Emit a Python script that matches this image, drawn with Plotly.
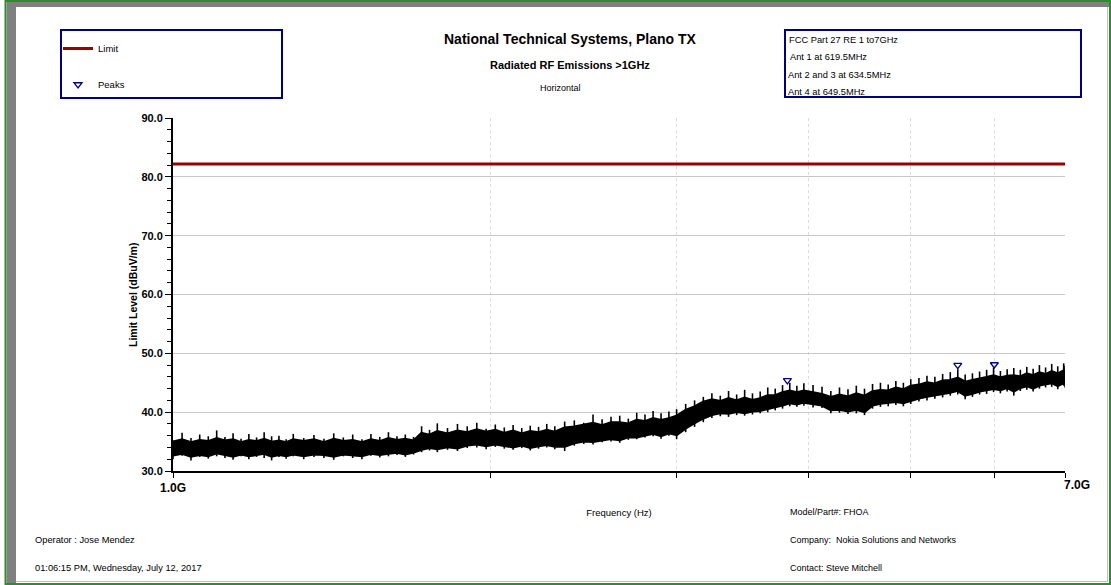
import math
import plotly.graph_objects as go

# ---------------- data ----------------
freq_ghz = [
    1.00, 1.02, 1.04, 1.06, 1.08, 1.10, 1.12, 1.14, 1.16, 1.18, 1.20, 1.22, 1.24, 1.26, 1.28, 1.30,
    1.33, 1.36, 1.39, 1.42, 1.45, 1.48, 1.51, 1.54, 1.57, 1.60, 1.63, 1.66, 1.69, 1.72, 1.75, 1.78,
    1.82, 1.86, 1.90, 1.94, 1.98, 2.02, 2.06, 2.10, 2.14, 2.18, 2.22, 2.26, 2.30,
    2.35, 2.40, 2.45, 2.50, 2.55, 2.60, 2.65, 2.70, 2.75, 2.80, 2.85, 2.90, 2.95, 3.00,
    3.06, 3.12, 3.18, 3.24, 3.30, 3.36, 3.42, 3.48, 3.54, 3.60, 3.66, 3.72, 3.78, 3.84, 3.90, 3.96,
    4.04, 4.12, 4.20, 4.28, 4.36, 4.44, 4.52, 4.60, 4.68, 4.76, 4.84, 4.92, 5.00,
    5.09, 5.18, 5.27, 5.36, 5.45, 5.54, 5.63, 5.72, 5.81, 5.90, 5.99, 6.08, 6.17, 6.26, 6.35,
    6.44, 6.53, 6.62, 6.71, 6.80, 6.89, 6.98, 7.00,
]
# noise extremes (spike tops / dip bottoms) per bin, dBuV/m
level_max = [
    35.2, 36.5, 35.6, 36.2, 35.9, 36.9, 35.8, 36.4, 35.5, 36.3, 35.7, 36.6, 35.9, 36.0, 35.4, 36.3,
    35.6, 36.1, 35.5, 36.4, 35.7, 36.2, 35.4, 36.3, 35.8, 36.6, 35.9, 36.2, 35.8, 37.6, 37.0, 38.1,
    37.3, 38.0, 37.6, 38.2, 37.2, 37.9, 37.4, 37.8, 37.3, 37.7, 37.5, 38.0, 37.6,
    38.4, 38.6, 38.2, 39.6, 38.8, 39.2, 39.4, 38.9, 39.9, 39.6, 40.2, 39.8, 40.1, 40.5,
    41.4, 42.0, 42.6, 43.2, 42.8, 43.6, 43.0, 43.8, 43.2, 43.5, 44.2, 44.0, 44.6, 45.0, 44.5, 44.9,
    44.6, 44.3, 43.6, 44.2, 43.9, 44.5, 44.0, 44.8, 45.0, 44.7, 45.3, 45.0, 45.6,
    45.8, 46.2, 46.0, 46.5, 46.8, 47.3, 46.4, 46.6, 46.9, 47.2, 47.6, 47.0, 47.3, 47.5, 47.2,
    47.7, 47.4, 48.0, 47.6, 48.2, 47.8, 48.3, 47.9,
]
level_min = [
    32.0, 32.6, 31.8, 32.4, 32.1, 32.5, 32.2, 31.9, 32.5, 32.0, 32.4, 32.2, 31.8, 32.4, 32.1, 32.5,
    32.0, 32.4, 32.2, 31.9, 32.5, 32.2, 32.0, 32.6, 32.3, 32.5, 32.7, 32.4, 32.8, 33.2, 33.5, 33.2,
    33.6, 33.4, 33.9, 34.0, 33.7, 34.1, 33.8, 33.6, 33.9, 33.5, 33.8, 34.0, 33.7,
    33.4, 34.3, 34.6, 34.5, 34.9, 35.0, 34.8, 35.3, 35.4, 35.7, 35.9, 35.5, 36.0, 35.4,
    36.6, 37.5, 38.3, 39.0, 39.3, 39.2, 39.5, 39.4, 39.6, 39.8, 40.0, 40.3, 40.6, 41.0, 40.9, 41.1,
    40.8, 40.7, 39.8, 39.9, 39.7, 39.8, 39.5, 40.6, 40.9, 41.0, 41.2, 41.0, 41.4,
    41.8, 42.0, 42.3, 42.5, 42.8, 43.0, 42.2, 42.6, 43.0, 43.1, 43.4, 43.2, 43.5, 42.8, 43.6,
    43.8, 43.5, 44.0, 44.2, 44.3, 43.9, 44.5, 44.2,
]
# dense core of the trace per bin, dBuV/m
core_top = [
    34.9, 35.3, 34.8, 35.2, 35.0, 35.5, 35.1, 35.3, 34.8, 35.2, 35.0, 35.4, 34.9, 35.1, 34.8, 35.3,
    35.0, 35.3, 34.8, 35.4, 35.0, 35.2, 34.8, 35.3, 35.0, 35.5, 35.2, 35.4, 35.1, 36.4, 36.1, 36.7,
    36.3, 36.8, 36.5, 37.0, 36.6, 36.9, 36.4, 36.8, 36.3, 36.7, 36.5, 36.9, 36.6,
    37.3, 37.5, 37.8, 38.1, 37.7, 38.2, 38.2, 38.0, 38.6, 38.4, 38.9, 38.6, 38.9, 39.3,
    40.3, 40.9, 41.7, 42.1, 41.8, 42.3, 41.9, 42.4, 42.0, 42.3, 42.8, 42.8, 43.3, 43.6, 43.3, 43.6,
    43.3, 43.0, 42.5, 42.9, 42.6, 43.1, 42.7, 43.5, 43.7, 43.6, 44.1, 43.8, 44.4,
    44.6, 45.0, 44.8, 45.3, 45.4, 45.8, 45.1, 45.4, 45.6, 45.9, 46.2, 45.8, 46.1, 46.2, 46.0,
    46.5, 46.2, 46.7, 46.4, 46.9, 46.5, 47.0, 46.7,
]
core_bottom = [
    32.7, 33.0, 32.5, 32.8, 32.6, 33.1, 32.8, 32.5, 32.9, 32.6, 32.8, 33.0, 32.5, 32.8, 32.6, 32.9,
    32.6, 32.9, 32.8, 32.5, 32.9, 32.7, 32.6, 33.0, 32.8, 33.0, 33.2, 32.9, 33.2, 33.7, 34.0, 33.8,
    34.1, 33.9, 34.4, 34.6, 34.3, 34.6, 34.3, 34.1, 34.4, 34.0, 34.3, 34.5, 34.2,
    34.2, 34.8, 35.1, 35.0, 35.3, 35.5, 35.3, 35.8, 35.8, 36.1, 36.4, 36.0, 36.5, 36.2,
    37.3, 38.2, 39.0, 39.6, 39.9, 39.8, 40.1, 39.9, 40.2, 40.3, 40.6, 41.0, 41.2, 41.6, 41.4, 41.7,
    41.4, 41.2, 40.4, 40.5, 40.2, 40.5, 40.1, 41.2, 41.5, 41.7, 41.8, 41.6, 42.0,
    42.4, 42.7, 42.9, 43.2, 43.4, 43.7, 42.9, 43.2, 43.6, 43.8, 44.0, 43.8, 44.2, 43.6, 44.2,
    44.5, 44.1, 44.6, 44.8, 45.0, 44.5, 45.0, 44.8,
]
limit_freq_ghz = [1.0, 7.0]
limit_level = [82.2, 82.2]
peak_freq_ghz = [3.82, 5.54, 6.00]
peak_level = [45.4, 48.0, 48.1]

x_tick_ghz = [1, 2, 3, 4, 5, 6, 7]
x_tick_text = ["1.0G", "", "", "", "", "", ""]

# ---------------- layout helpers ----------------
W, H = 1111, 585
PL, PR, PT, PB = 173, 1065, 118, 471


def xp(px):
    return (px - PL) / (PR - PL)


def yp(py):
    return (PB - py) / (PB - PT)


NARROW = "Liberation Sans Narrow, Arial Narrow, Liberation Sans, Arial, sans-serif"
SANS = "Liberation Sans, Arial, sans-serif"
NAVY = "#00007f"

fx = [f * 1e9 for f in freq_ghz]
# vertical min/max strokes, one per bin
spike_x, spike_y = [], []
for f, hi, lo in zip(fx, level_max, level_min):
    spike_x += [f, f, None]
    spike_y += [hi, lo, None]

fig = go.Figure()

fig.add_trace(go.Scatter(
    x=fx, y=core_bottom, mode="lines",
    line=dict(color="black", width=3), showlegend=False, hoverinfo="skip"))
fig.add_trace(go.Scatter(
    x=fx, y=core_top, mode="lines", fill="tonexty",
    fillcolor="black", line=dict(color="black", width=3), showlegend=False,
    hoverinfo="skip"))
fig.add_trace(go.Scatter(
    x=spike_x, y=spike_y, mode="lines", connectgaps=False,
    line=dict(color="black", width=1.6), showlegend=False, hoverinfo="skip"))
fig.add_trace(go.Scatter(
    x=[f * 1e9 for f in limit_freq_ghz], y=limit_level, mode="lines", name="Limit",
    legendgroup="a", line=dict(color="#990000", width=3)))
fig.add_trace(go.Scatter(
    x=[f * 1e9 for f in peak_freq_ghz], y=peak_level, mode="markers", name="Peaks",
    legendgroup="b",
    marker=dict(symbol="triangle-down-open", size=7, color=NAVY, line=dict(width=1.3, color=NAVY))))

shapes = []
# outer frame
shapes.append(dict(type="rect", xref="paper", yref="paper",
                   x0=xp(5.5), x1=xp(1110), y0=yp(1), y1=yp(584),
                   line=dict(color="#2e8b2e", width=2), layer="below"))
shapes.append(dict(type="rect", xref="paper", yref="paper",
                   x0=xp(6.5), x1=xp(1109), y0=yp(2), y1=yp(7),
                   fillcolor="#808080", line=dict(width=0), layer="below"))
shapes.append(dict(type="rect", xref="paper", yref="paper",
                   x0=xp(6.5), x1=xp(16), y0=yp(7), y1=yp(583),
                   fillcolor="#808080", line=dict(width=0), layer="below"))
shapes.append(dict(type="line", xref="paper", yref="paper",
                   x0=xp(1107.5), x1=xp(1107.5), y0=yp(7), y1=yp(582),
                   line=dict(color="#c0c0c0", width=1), layer="below"))
shapes.append(dict(type="line", xref="paper", yref="paper",
                   x0=xp(16), x1=xp(1108), y0=yp(581.5), y1=yp(581.5),
                   line=dict(color="#c0c0c0", width=1), layer="below"))
# legend box and info box
shapes.append(dict(type="rect", xref="paper", yref="paper",
                   x0=xp(61), x1=xp(282), y0=yp(30), y1=yp(98),
                   line=dict(color=NAVY, width=2)))
shapes.append(dict(type="rect", xref="paper", yref="paper",
                   x0=xp(785), x1=xp(1081), y0=yp(30), y1=yp(97),
                   line=dict(color=NAVY, width=2)))

ann = []


def text(px, py, s, size=10, bold=False, anchor="left", angle=0):
    ann.append(dict(xref="paper", yref="paper", x=xp(px), y=yp(py), text=("<b>%s</b>" % s) if bold else s,
                    showarrow=False, xanchor=anchor, yanchor="middle", textangle=angle,
                    font=dict(family=NARROW, size=size, color="black")))


text(570, 39, "National Technical Systems, Plano TX", 14, True, "center")
text(570, 65, "Radiated RF Emissions >1GHz", 11, True, "center")
text(560, 88, "Horizontal", 9, False, "center")

text(787, 40, "FCC Part 27 RE 1 to7GHz", 9.3)
text(788, 57, "Ant 1 at 619.5MHz", 9.3)
text(786, 75, "Ant 2 and 3 at 634.5MHz", 9.3)
text(786, 92, "Ant 4 at 649.5MHz", 9.3)

text(33, 540, "Operator : Jose Mendez", 9.3)
text(33, 568, "01:06:15 PM, Wednesday, July 12, 2017", 9.3)
text(788, 512, "Model/Part#: FHOA", 9)
text(788, 540, "Company:  Nokia Solutions and Networks", 9)
text(788, 568, "Contact: Steve Mitchell", 9)
text(133, 295, "Limit Level (dBuV/m)", 10.5, True, "center", -90)

ann.append(dict(xref="x", yref="y", x=math.log10(7e9), y=30, text="<b>7.0G</b>",
                showarrow=False, xanchor="left", yanchor="top", xshift=-3, yshift=-5,
                font=dict(family=SANS, size=12, color="black")))

fig.update_layout(
    width=W, height=H,
    margin=dict(l=PL, r=W - PR, t=PT, b=H - PB),
    paper_bgcolor="white", plot_bgcolor="white",
    shapes=shapes, annotations=ann,
    showlegend=True,
    legend=dict(x=xp(58), y=yp(34), xanchor="left", yanchor="top",
                bgcolor="rgba(0,0,0,0)", borderwidth=0, traceorder="grouped",
                tracegroupgap=17, itemwidth=30,
                font=dict(family=NARROW, size=9.5, color="black")),
    xaxis=dict(
        type="log", range=[9, math.log10(7e9)],
        tickvals=[v * 1e9 for v in x_tick_ghz], ticktext=x_tick_text,
        ticks="outside", ticklen=5, tickcolor="black", tickwidth=1,
        showline=True, linecolor="black", linewidth=2,
        showgrid=True, gridcolor="#dcdcdc", griddash="dot", gridwidth=1,
        zeroline=False,
        tickfont=dict(family=SANS, size=12, color="black", weight="bold"),
        title=dict(text="Frequency (Hz)", standoff=15,
                   font=dict(family=NARROW, size=9.5, color="black")),
    ),
    yaxis=dict(
        range=[30, 90], dtick=10, tick0=30, tickformat=".1f",
        ticks="outside", ticklen=6, tickcolor="black", tickwidth=1,
        minor=dict(dtick=2, ticks="outside", ticklen=4, tickcolor="black", showgrid=False),
        showline=True, linecolor="black", linewidth=2,
        showgrid=True, gridcolor="#c8c8c8", gridwidth=1, zeroline=False,
        tickfont=dict(family=SANS, size=11, color="black", weight="bold"),
    ),
)

fig.write_html("out.html", config={"displayModeBar": False},
               post_script="document.body.style.margin='0';document.body.style.overflow='hidden';")
